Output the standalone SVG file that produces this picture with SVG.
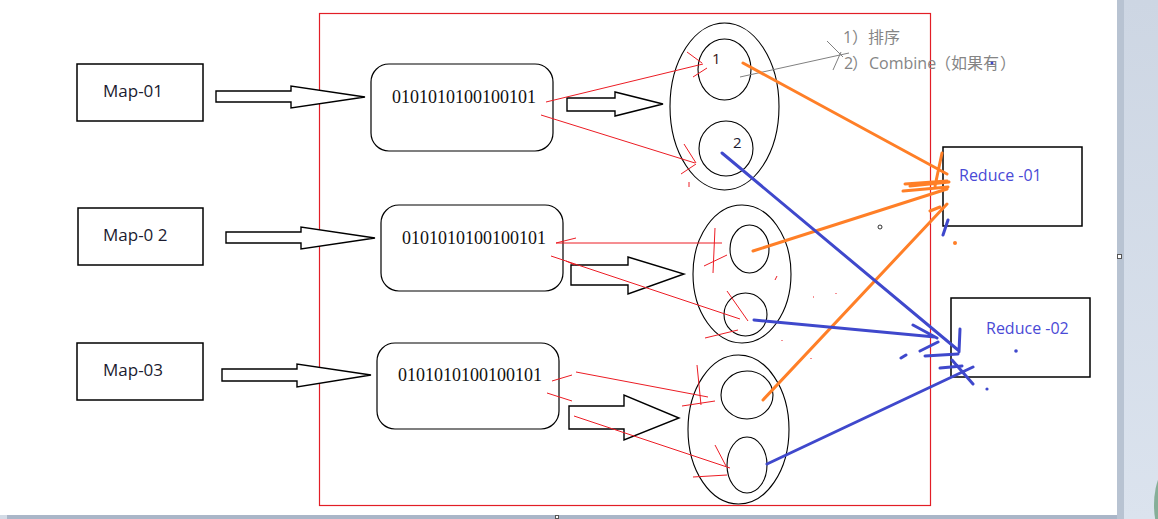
<svg xmlns="http://www.w3.org/2000/svg" width="1158" height="519" viewBox="0 0 1158 519">
<defs>
<linearGradient id="panel" x1="0" y1="0" x2="0" y2="1">
<stop offset="0" stop-color="#cdd6e3"/>
<stop offset="1" stop-color="#dbe3ee"/>
</linearGradient>
<style>
.box{fill:#fff;stroke:#000;stroke-width:1.5}
.rbox{fill:#fff;stroke:#000;stroke-width:1.2}
.ell{fill:none;stroke:#000;stroke-width:1.1}
.blk{fill:#fff;stroke:#000;stroke-width:1.4;stroke-linejoin:miter}
.map{font-family:"Open Sans","Liberation Sans",sans-serif;font-size:17px;fill:#1b1b30}
.bits{font-family:"Liberation Serif",serif;font-size:18px;fill:#111}
.red{font-family:"Open Sans","Liberation Sans",sans-serif;font-size:16px;fill:#4a4ad6}
.num{font-family:"Open Sans","Liberation Sans",sans-serif;font-size:15px;fill:#3a1414}
.note{font-family:"Open Sans","Noto Sans CJK SC",sans-serif;font-size:16px;fill:#858585}
.r{stroke:#ec1c24;stroke-width:1;fill:none}
.o{stroke:#ff7f27;stroke-width:3;fill:none;stroke-linecap:round}
.b{stroke:#3f48cc;stroke-width:3;fill:none;stroke-linecap:round}
.g{stroke:#808080;stroke-width:1;fill:none}
</style>
</defs>
<rect x="0" y="0" width="1158" height="519" fill="#fff"/>
<!-- window chrome -->
<rect x="1117" y="0" width="41" height="519" fill="url(#panel)"/>
<rect x="1117" y="0" width="7" height="519" fill="#b8c3d2"/>
<rect x="0" y="515" width="1117" height="4" fill="#aab6c8"/>
<rect x="0" y="515" width="7" height="4" fill="#d3dbe6"/>
<rect x="1117.5" y="254.5" width="4" height="4" fill="#fff" stroke="#555" stroke-width="1"/>
<rect x="555.5" y="515.5" width="3" height="3" fill="#fff" stroke="#555" stroke-width="1"/>
<ellipse cx="1176" cy="505" rx="22" ry="44" fill="#86ae98"/>

<!-- frame -->
<rect id="frame" x="319.5" y="13.5" width="611" height="492" fill="none" stroke="#e21e26" stroke-width="1.2"/>

<!-- map nodes -->
<g id="map1"><rect class="box" x="77" y="64" width="126" height="57"/><text class="map" x="103" y="97">Map-01</text></g>
<g id="map2"><rect class="box" x="78" y="208" width="125" height="57"/><text class="map" x="103" y="241">Map-0 2</text></g>
<g id="map3"><rect class="box" x="77" y="343" width="126" height="57"/><text class="map" x="103" y="376">Map-03</text></g>

<!-- split nodes -->
<g id="split1"><rect class="rbox" x="371" y="64" width="182" height="87" rx="18"/><text class="bits" x="392" y="103">0101010100100101</text></g>
<g id="split2"><rect class="rbox" x="381" y="205" width="182" height="86" rx="18"/><text class="bits" x="402" y="244">0101010100100101</text></g>
<g id="split3"><rect class="rbox" x="377" y="343" width="182" height="86" rx="18"/><text class="bits" x="398" y="381">0101010100100101</text></g>

<!-- combiner nodes -->
<g id="combiner1">
<ellipse class="ell" cx="724.5" cy="106.5" rx="54.5" ry="83.5"/>
<ellipse class="ell" cx="724.5" cy="69.5" rx="26.5" ry="30.5"/>
<ellipse class="ell" cx="726" cy="148.5" rx="27" ry="27.5"/>
<text class="num" x="712" y="64">1</text>
<text class="num" x="733" y="148" style="fill:#1b1b30">2</text>
</g>
<g id="combiner2">
<ellipse class="ell" cx="742" cy="274" rx="49" ry="69"/>
<ellipse class="ell" cx="749.5" cy="249" rx="19.5" ry="24"/>
<ellipse class="ell" cx="745.5" cy="314.5" rx="21.5" ry="21.5"/>
</g>
<g id="combiner3">
<ellipse class="ell" cx="738.5" cy="429.5" rx="50.5" ry="74.5"/>
<ellipse class="ell" cx="747" cy="395" rx="26" ry="24"/>
<ellipse class="ell" cx="747" cy="465" rx="20" ry="28"/>
</g>

<!-- reduce nodes -->
<g id="reduce1"><rect class="box" x="943" y="147" width="139" height="79"/><text class="red" x="959" y="181">Reduce -01</text></g>
<g id="reduce2"><rect class="box" x="951" y="298" width="139" height="79"/><text class="red" x="986" y="334">Reduce -02</text></g>

<!-- annotation -->
<g id="annotation">
<text class="note" y="43"><tspan x="843">1</tspan><tspan x="852">）</tspan><tspan x="868">排序</tspan></text>
<text class="note" y="69"><tspan x="844">2</tspan><tspan x="852">）</tspan><tspan x="869">Combine</tspan><tspan x="935">（</tspan><tspan x="951">如果有</tspan><tspan x="1000">）</tspan></text>
</g>

<g id="connectors">
<!-- block arrows -->
<polygon class="blk" points="216,91 291,91 291,86 365,97 291,108 291,102 216,102"/>
<polygon class="blk" points="226,232 301,232 301,227 375,238 301,249 301,243 226,243"/>
<polygon class="blk" points="222,369 297,369 297,364 371,375 297,387 297,381 222,381"/>
<polygon class="blk" points="567,98 615,98 615,92 663,104 615,116 615,111 567,111"/>
<polygon class="blk" points="571,265 628,265 628,257 684,274 628,294 628,285 571,285"/>
<polygon class="blk" points="569,406 624,406 624,395 679,418 624,440 624,429 569,429"/>

<!-- red hand-drawn arrows -->
<path class="r" d="M546,102 L703,64 M687,52 L702,63 M693,77 L707,68"/>
<path class="r" d="M541,115 L695,163 M684,144 L696,163 M681,174 L696,164 M689,182 L689,187"/>
<path class="r" d="M556,243 L722,243 M556,243 L576,238 M715,228 L713,273 M704,266 L727,255"/>
<path class="r" d="M551,256 L740,319 M566,261 L575,265 M727,291 L748,321 M705,338 L738,330 M775,280 L777,276"/>
<path class="r" d="M552,381 L572,375 M576,372 L708,397 M547,393 L572,401 M574,416 L730,468 M697,365 L701,405 M682,406 L715,401 M715,445 L726,466 M693,477 L727,475"/>
<path class="r" d="M813,297 L814,297 M782,340 L782,341 M811,358 L811,359 M836,293 L836,294"/>

<!-- gray pointer -->
<path class="g" d="M740,77 L849,53 M827,41 L843,57 M833,70 L841,52"/>

<!-- orange connectors -->
<path class="o" d="M743,63 L947,174 M942,153 L935,186 M905,184 L947,181 M903,191 L948,187"/>
<path class="o" d="M753,251 L947,189 M910,186 L949,182"/>
<path class="o" d="M763,400 L947,204 M930,211 L940,207"/>
<circle cx="955" cy="243" r="2" fill="#ff7f27"/>

<!-- blue connectors -->
<path class="b" d="M722,153 L958,350 M960,329 L959,352"/>
<path class="b" d="M754,320 L935,337 M913,325 L937,338 M920,351 L938,342 M925,356 L958,354"/>
<path class="b" d="M767,464 L973,367 M940,368 L962,366 M952,360 L973,384 M901,358 L906,355 M943,235 L948,220"/>
<circle cx="987" cy="389" r="1.6" fill="#3f48cc"/>
<circle cx="1016" cy="351" r="1.8" fill="#3f48cc"/>
<circle cx="992" cy="63" r="1.5" fill="#3f48cc"/>
<circle cx="880" cy="227" r="2" fill="none" stroke="#000" stroke-width="0.8"/>
</g>
</svg>
